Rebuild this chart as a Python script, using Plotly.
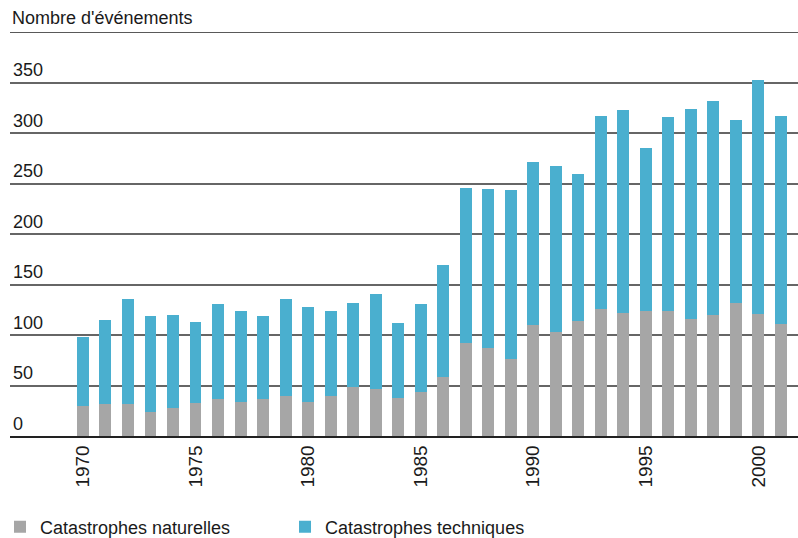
import plotly.graph_objects as go

years = list(range(1970, 2002))
naturelles = [30, 32, 32, 24, 28, 33, 37, 34, 37, 40, 34, 40, 49, 47, 38, 44,
              58, 92, 87, 76, 110, 103, 114, 126, 122, 124, 124, 116, 120, 132, 121, 111]
techniques = [68, 83, 104, 95, 92, 80, 94, 90, 82, 96, 94, 84, 83, 94, 74, 87,
              111, 154, 158, 168, 161, 164, 145, 191, 201, 161, 192, 208, 212, 181, 231, 206]
y_ticks = [0, 50, 100, 150, 200, 250, 300, 350]
x_ticks = [1970, 1975, 1980, 1985, 1990, 1995, 2000]

GRAY = "#a6a6a6"
BLUE = "#4aafcf"
TXT = "#1a1a1a"
FONT = "Liberation Sans, Arial, sans-serif"

fig = go.Figure()
fig.add_trace(go.Bar(x=years, y=naturelles, name="Catastrophes naturelles",
                     marker=dict(color=GRAY, line=dict(width=0)), legend="legend"))
fig.add_trace(go.Bar(x=years, y=techniques, name="Catastrophes techniques",
                     marker=dict(color=BLUE, line=dict(width=0)), legend="legend2"))

leg_common = dict(orientation="h", xref="paper", xanchor="left",
                  yref="container", y=0.0204, yanchor="middle",
                  font=dict(size=18, color=TXT), bgcolor="rgba(0,0,0,0)")

fig.update_layout(
    width=798, height=538,
    barmode="stack", bargap=0.47,
    margin=dict(l=10, r=0, t=32, b=102),
    paper_bgcolor="white", plot_bgcolor="white",
    font=dict(family=FONT, size=18, color=TXT),
    showlegend=True,
    legend=dict(x=-0.0279, **leg_common),
    legend2=dict(x=0.349, **leg_common),
    xaxis=dict(range=[1966.76, 2001.76], tickvals=x_ticks, tickangle=-90,
               showgrid=False, zeroline=False, showline=True, linecolor="#222",
               linewidth=1.5, ticks="", tickfont=dict(size=19, color=TXT)),
    yaxis=dict(range=[0, 400], tickvals=y_ticks, showgrid=True,
               gridcolor="#666666", gridwidth=1.5, zeroline=False,
               ticklabelposition="inside top", ticks="",
               tickfont=dict(size=18, color=TXT)),
    shapes=[dict(type="line", xref="paper", yref="y", x0=0, x1=1, y0=400, y1=400,
                 line=dict(color="#222", width=1.5))],
    annotations=[dict(text="Nombre d'événements", xref="paper", yref="paper",
                      x=0, y=1, xanchor="left", yanchor="bottom", yshift=2,
                      showarrow=False, font=dict(size=18, color=TXT))],
)

fig.write_html("out.html")
